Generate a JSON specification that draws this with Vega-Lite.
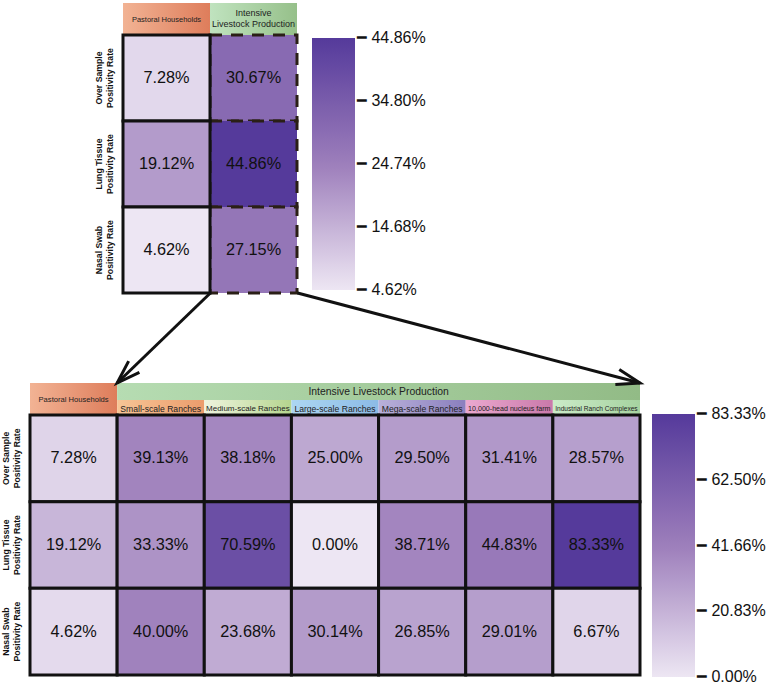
{
  "$schema": "https://vega.github.io/schema/vega-lite/v6.json",
  "width": 770,
  "height": 688,
  "padding": 0,
  "autosize": {"type": "none"},
  "background": "#ffffff",
  "config": {"view": {"stroke": null}, "font": "Liberation Sans"},
  "datasets": {
    "overview": [
      {"farm": "Intensive Livestock Production", "sample": "Over Sample\nPositivity Rate", "rate": 0.3067},
      {"farm": "Intensive Livestock Production", "sample": "Lung Tissue\nPositivity Rate", "rate": 0.4486},
      {"farm": "Intensive Livestock Production", "sample": "Nasal Swab\nPositivity Rate", "rate": 0.2715},
      {"farm": "Pastoral Households", "sample": "Over Sample\nPositivity Rate", "rate": 0.0728},
      {"farm": "Pastoral Households", "sample": "Lung Tissue\nPositivity Rate", "rate": 0.1912},
      {"farm": "Pastoral Households", "sample": "Nasal Swab\nPositivity Rate", "rate": 0.0462}
    ],
    "detail": [
      {"farm": "Pastoral Households", "sample": "Over Sample\nPositivity Rate", "rate": 0.0728},
      {"farm": "Small-scale Ranches", "sample": "Over Sample\nPositivity Rate", "rate": 0.3913},
      {"farm": "Medium-scale Ranches", "sample": "Over Sample\nPositivity Rate", "rate": 0.3818},
      {"farm": "Large-scale Ranches", "sample": "Over Sample\nPositivity Rate", "rate": 0.25},
      {"farm": "Mega-scale Ranches", "sample": "Over Sample\nPositivity Rate", "rate": 0.295},
      {"farm": "10,000-head nucleus farm", "sample": "Over Sample\nPositivity Rate", "rate": 0.3141},
      {"farm": "Industrial Ranch Complexes", "sample": "Over Sample\nPositivity Rate", "rate": 0.2857},
      {"farm": "Pastoral Households", "sample": "Lung Tissue\nPositivity Rate", "rate": 0.1912},
      {"farm": "Small-scale Ranches", "sample": "Lung Tissue\nPositivity Rate", "rate": 0.3333},
      {"farm": "Medium-scale Ranches", "sample": "Lung Tissue\nPositivity Rate", "rate": 0.7059},
      {"farm": "Large-scale Ranches", "sample": "Lung Tissue\nPositivity Rate", "rate": 0},
      {"farm": "Mega-scale Ranches", "sample": "Lung Tissue\nPositivity Rate", "rate": 0.3871},
      {"farm": "10,000-head nucleus farm", "sample": "Lung Tissue\nPositivity Rate", "rate": 0.4483},
      {"farm": "Industrial Ranch Complexes", "sample": "Lung Tissue\nPositivity Rate", "rate": 0.8333},
      {"farm": "Pastoral Households", "sample": "Nasal Swab\nPositivity Rate", "rate": 0.0462},
      {"farm": "Small-scale Ranches", "sample": "Nasal Swab\nPositivity Rate", "rate": 0.4},
      {"farm": "Medium-scale Ranches", "sample": "Nasal Swab\nPositivity Rate", "rate": 0.2368},
      {"farm": "Large-scale Ranches", "sample": "Nasal Swab\nPositivity Rate", "rate": 0.3014},
      {"farm": "Mega-scale Ranches", "sample": "Nasal Swab\nPositivity Rate", "rate": 0.2685},
      {"farm": "10,000-head nucleus farm", "sample": "Nasal Swab\nPositivity Rate", "rate": 0.2901},
      {"farm": "Industrial Ranch Complexes", "sample": "Nasal Swab\nPositivity Rate", "rate": 0.0667}
    ],
    "overviewHeads": [
      {"farm": "Pastoral Households", "tier": "group", "title": "Pastoral Households"},
      {"farm": "Intensive Livestock Production", "tier": "group", "title": "Intensive\nLivestock Production"}
    ],
    "detailHeads": [
      {"title": "Pastoral Households", "farm": "Pastoral Households", "farmEnd": "Pastoral Households", "tier": "group", "tierEnd": "sub"},
      {"title": "Intensive Livestock Production", "farm": "Small-scale Ranches", "farmEnd": "Industrial Ranch Complexes", "tier": "group", "tierEnd": "group"},
      {"title": "Small-scale Ranches", "farm": "Small-scale Ranches", "farmEnd": "Small-scale Ranches", "tier": "sub", "tierEnd": "sub"},
      {"title": "Medium-scale Ranches", "farm": "Medium-scale Ranches", "farmEnd": "Medium-scale Ranches", "tier": "sub", "tierEnd": "sub"},
      {"title": "Large-scale Ranches", "farm": "Large-scale Ranches", "farmEnd": "Large-scale Ranches", "tier": "sub", "tierEnd": "sub"},
      {"title": "Mega-scale Ranches", "farm": "Mega-scale Ranches", "farmEnd": "Mega-scale Ranches", "tier": "sub", "tierEnd": "sub"},
      {"title": "10,000-head nucleus farm", "farm": "10,000-head nucleus farm", "farmEnd": "10,000-head nucleus farm", "tier": "sub", "tierEnd": "sub"},
      {"title": "Industrial Ranch Complexes", "farm": "Industrial Ranch Complexes", "farmEnd": "Industrial Ranch Complexes", "tier": "sub", "tierEnd": "sub"}
    ],
    "links": [
      {"link": "left", "fromCol": 2.07, "fromRow": 0, "toCol": 1, "toRow": 1},
      {"link": "right", "fromCol": 3.07, "fromRow": 0, "toCol": 7, "toRow": 1}
    ]
  },
  "layer": [
    {
      "data": {"name": "detailHeads"},
      "encoding": {
        "x": {"field": "farm", "type": "nominal", "bandPosition": 0, "axis": null,
              "scale": {"domain": ["Pastoral Households", "Small-scale Ranches", "Medium-scale Ranches", "Large-scale Ranches", "Mega-scale Ranches", "10,000-head nucleus farm", "Industrial Ranch Complexes"], "range": [30, 640], "paddingInner": 0, "paddingOuter": 0}},
        "y": {"field": "tier", "type": "nominal", "bandPosition": 0, "axis": null,
              "scale": {"domain": ["group", "sub"], "range": [383, 417], "paddingInner": 0, "paddingOuter": 0}}
      },
      "layer": [
        {
          "encoding": {"x2": {"field": "farmEnd", "bandPosition": 1}, "y2": {"field": "tierEnd", "bandPosition": 1}},
          "layer": [
            {"transform": [{"filter": {"field": "title", "equal": "Pastoral Households"}}],
             "mark": {"type": "rect", "fill": {"gradient": "linear", "x1": 0, "y1": 0, "x2": 1, "y2": 0, "stops": [{"offset": 0, "color": "#f2b394"}, {"offset": 1, "color": "#de7d5b"}]}}},
            {"transform": [{"filter": {"field": "title", "equal": "Intensive Livestock Production"}}],
             "mark": {"type": "rect", "fill": {"gradient": "linear", "x1": 0, "y1": 0, "x2": 1, "y2": 0, "stops": [{"offset": 0, "color": "#b6dcb2"}, {"offset": 1, "color": "#92bb86"}]}}},
            {"transform": [{"filter": {"field": "title", "equal": "Small-scale Ranches"}}],
             "mark": {"type": "rect", "fill": {"gradient": "linear", "x1": 0, "y1": 0, "x2": 1, "y2": 0, "stops": [{"offset": 0, "color": "#f7c596"}, {"offset": 1, "color": "#eb9c6c"}]}}},
            {"transform": [{"filter": {"field": "title", "equal": "Medium-scale Ranches"}}],
             "mark": {"type": "rect", "fill": {"gradient": "linear", "x1": 0, "y1": 0, "x2": 1, "y2": 0, "stops": [{"offset": 0, "color": "#eef4de"}, {"offset": 1, "color": "#b5d58e"}]}}},
            {"transform": [{"filter": {"field": "title", "equal": "Large-scale Ranches"}}],
             "mark": {"type": "rect", "fill": {"gradient": "linear", "x1": 0, "y1": 0, "x2": 1, "y2": 0, "stops": [{"offset": 0, "color": "#acd6f2"}, {"offset": 1, "color": "#8cbbe6"}]}}},
            {"transform": [{"filter": {"field": "title", "equal": "Mega-scale Ranches"}}],
             "mark": {"type": "rect", "fill": {"gradient": "linear", "x1": 0, "y1": 0, "x2": 1, "y2": 0, "stops": [{"offset": 0, "color": "#b9b0da"}, {"offset": 1, "color": "#8a7fbe"}]}}},
            {"transform": [{"filter": {"field": "title", "equal": "10,000-head nucleus farm"}}],
             "mark": {"type": "rect", "fill": {"gradient": "linear", "x1": 0, "y1": 0, "x2": 1, "y2": 0, "stops": [{"offset": 0, "color": "#eba9cf"}, {"offset": 1, "color": "#c979aa"}]}}},
            {"transform": [{"filter": {"field": "title", "equal": "Industrial Ranch Complexes"}}],
             "mark": {"type": "rect", "fill": {"gradient": "linear", "x1": 0, "y1": 0, "x2": 1, "y2": 0, "stops": [{"offset": 0, "color": "#cbebc8"}, {"offset": 1, "color": "#a6d3a0"}]}}}
          ]
        },
        {"transform": [{"filter": {"field": "title", "equal": "Pastoral Households"}}],
         "mark": {"type": "text", "fontSize": 7.6, "color": "#222222"},
         "encoding": {"x": {"field": "farm", "type": "nominal", "bandPosition": 0.5}, "y": {"field": "tier", "type": "nominal", "bandPosition": 1}, "text": {"field": "title"}}},
        {"transform": [{"filter": {"field": "title", "equal": "Intensive Livestock Production"}}],
         "mark": {"type": "text", "fontSize": 10.4, "color": "#222222"},
         "encoding": {"x": {"field": "farm", "type": "nominal", "bandPosition": 3}, "y": {"field": "tier", "type": "nominal", "bandPosition": 0.5}, "text": {"field": "title"}}},
        {"transform": [{"filter": {"field": "tier", "equal": "sub"}}],
         "mark": {"type": "text", "color": "#222222"},
         "encoding": {
           "x": {"field": "farm", "type": "nominal", "bandPosition": 0.5},
           "y": {"field": "tier", "type": "nominal", "bandPosition": 0.5},
           "text": {"field": "title"},
           "size": {"condition": [{"test": "datum.title === 'Industrial Ranch Complexes'", "value": 6.6}, {"test": "datum.title === '10,000-head nucleus farm'", "value": 7.1}, {"test": "datum.title === 'Medium-scale Ranches'", "value": 8}], "value": 8.6}
         }}
      ]
    },
    {
      "data": {"name": "detail"},
      "encoding": {
        "x": {"field": "farm", "type": "nominal", "axis": null,
              "scale": {"domain": ["Pastoral Households", "Small-scale Ranches", "Medium-scale Ranches", "Large-scale Ranches", "Mega-scale Ranches", "10,000-head nucleus farm", "Industrial Ranch Complexes"], "range": [30, 640], "paddingInner": 0, "paddingOuter": 0}},
        "y": {"field": "sample", "type": "nominal", "axis": null,
              "scale": {"domain": ["Over Sample\nPositivity Rate", "Lung Tissue\nPositivity Rate", "Nasal Swab\nPositivity Rate"], "range": [415, 675], "paddingInner": 0, "paddingOuter": 0}}
      },
      "layer": [
        {"mark": {"type": "rect", "stroke": "#111111", "strokeWidth": 3},
         "encoding": {"color": {"field": "rate", "type": "quantitative",
           "scale": {"domain": [0, 0.41665, 0.8333], "range": ["#ede6f3", "#9d7ebb", "#553a9b"], "interpolate": "rgb"},
           "legend": {"orient": "none", "legendX": 652, "legendY": 414, "direction": "vertical", "title": null, "padding": 0,
                      "gradientLength": 263, "gradientThickness": 43, "gradientStrokeWidth": 0,
                      "values": [0, 0.2083, 0.4166, 0.625, 0.8333], "format": ".2%", "labelExpr": "'━ ' + datum.label",
                      "labelFont": "Liberation Sans", "labelFontSize": 16, "labelColor": "#111111", "labelOffset": 2, "labelLimit": 200, "labelOverlap": false,
                      "encode": {"labels": {"update": {"baseline": {"value": "middle"}}}}}}}},
        {"mark": {"type": "text", "fontSize": 16.3, "color": "#111111"},
         "encoding": {"text": {"field": "rate", "type": "quantitative", "format": ".2%"}}},
        {"transform": [{"filter": {"field": "farm", "equal": "Pastoral Households"}}],
         "mark": {"type": "text", "angle": 270, "align": "center", "baseline": "bottom", "dy": -19, "lineBreak": "\n", "lineHeight": 11, "fontSize": 8.7, "fontWeight": "bold", "color": "#111111"},
         "encoding": {"x": {"field": "farm", "type": "nominal", "bandPosition": 0}, "text": {"field": "sample"}}}
      ]
    },
    {
      "data": {"name": "overviewHeads"},
      "encoding": {
        "x": {"field": "farm", "type": "nominal", "axis": null,
              "scale": {"domain": ["Pastoral Households", "Intensive Livestock Production"], "range": [123, 297], "paddingInner": 0, "paddingOuter": 0}},
        "y": {"field": "tier", "type": "nominal", "axis": null,
              "scale": {"domain": ["group"], "range": [3, 35], "paddingInner": 0, "paddingOuter": 0}}
      },
      "layer": [
        {"transform": [{"filter": {"field": "farm", "equal": "Pastoral Households"}}],
         "mark": {"type": "rect", "fill": {"gradient": "linear", "x1": 0, "y1": 0, "x2": 1, "y2": 0, "stops": [{"offset": 0, "color": "#f2b394"}, {"offset": 1, "color": "#de7d5b"}]}}},
        {"transform": [{"filter": {"field": "farm", "equal": "Intensive Livestock Production"}}],
         "mark": {"type": "rect", "fill": {"gradient": "linear", "x1": 0, "y1": 0, "x2": 1, "y2": 0, "stops": [{"offset": 0, "color": "#c0e3bf"}, {"offset": 1, "color": "#96c08a"}]}}},
        {"transform": [{"filter": {"field": "farm", "equal": "Pastoral Households"}}],
         "mark": {"type": "text", "fontSize": 7.5, "dy": 1, "color": "#222222"},
         "encoding": {"text": {"field": "title"}}},
        {"transform": [{"filter": {"field": "farm", "equal": "Intensive Livestock Production"}}],
         "mark": {"type": "text", "fontSize": 9, "lineBreak": "\n", "lineHeight": 11, "dy": -6, "color": "#222222"},
         "encoding": {"text": {"field": "title"}}}
      ]
    },
    {
      "data": {"name": "overview"},
      "encoding": {
        "x": {"field": "farm", "type": "nominal", "axis": null,
              "scale": {"domain": ["Pastoral Households", "Intensive Livestock Production"], "range": [123, 297], "paddingInner": 0, "paddingOuter": 0}},
        "y": {"field": "sample", "type": "nominal", "axis": null,
              "scale": {"domain": ["Over Sample\nPositivity Rate", "Lung Tissue\nPositivity Rate", "Nasal Swab\nPositivity Rate"], "range": [35, 293], "paddingInner": 0, "paddingOuter": 0}}
      },
      "layer": [
        {"transform": [{"filter": {"field": "farm", "equal": "Intensive Livestock Production"}}],
         "mark": {"type": "rect", "stroke": "#2a1f16", "strokeWidth": 3, "strokeDash": [12, 9]},
         "encoding": {"color": {"field": "rate", "type": "quantitative",
           "scale": {"domain": [0.0462, 0.2474, 0.4486], "range": ["#ede6f3", "#9d7ebb", "#553a9b"], "interpolate": "rgb"},
           "legend": {"orient": "none", "legendX": 312, "legendY": 38, "direction": "vertical", "title": null, "padding": 0,
                      "gradientLength": 252, "gradientThickness": 43, "gradientStrokeWidth": 0,
                      "values": [0.0462, 0.1468, 0.2474, 0.348, 0.4486], "format": ".2%", "labelExpr": "'━ ' + datum.label",
                      "labelFont": "Liberation Sans", "labelFontSize": 16, "labelColor": "#111111", "labelOffset": 2, "labelLimit": 200, "labelOverlap": false,
                      "encode": {"labels": {"update": {"baseline": {"value": "middle"}}}}}}}},
        {"transform": [{"filter": {"field": "farm", "equal": "Pastoral Households"}}],
         "mark": {"type": "rect", "stroke": "#111111", "strokeWidth": 3},
         "encoding": {"color": {"field": "rate", "type": "quantitative",
           "scale": {"domain": [0.0462, 0.2474, 0.4486], "range": ["#ede6f3", "#9d7ebb", "#553a9b"], "interpolate": "rgb"},
           "legend": {"orient": "none", "legendX": 312, "legendY": 38, "direction": "vertical", "title": null, "padding": 0,
                      "gradientLength": 252, "gradientThickness": 43, "gradientStrokeWidth": 0,
                      "values": [0.0462, 0.1468, 0.2474, 0.348, 0.4486], "format": ".2%", "labelExpr": "'━ ' + datum.label",
                      "labelFont": "Liberation Sans", "labelFontSize": 16, "labelColor": "#111111", "labelOffset": 2, "labelLimit": 200, "labelOverlap": false,
                      "encode": {"labels": {"update": {"baseline": {"value": "middle"}}}}}}}},
        {"mark": {"type": "text", "fontSize": 16.3, "color": "#111111"},
         "encoding": {"text": {"field": "rate", "type": "quantitative", "format": ".2%"}}},
        {"transform": [{"filter": {"field": "farm", "equal": "Pastoral Households"}}],
         "mark": {"type": "text", "angle": 270, "align": "center", "baseline": "bottom", "dy": -19, "lineBreak": "\n", "lineHeight": 11, "fontSize": 8.7, "fontWeight": "bold", "color": "#111111"},
         "encoding": {"x": {"field": "farm", "type": "nominal", "bandPosition": 0}, "text": {"field": "sample"}}}
      ]
    },
    {
      "data": {"name": "links"},
      "encoding": {
        "x": {"field": "fromCol", "type": "quantitative", "axis": null, "scale": {"domain": [0, 7], "range": [30, 640]}},
        "y": {"field": "fromRow", "type": "quantitative", "axis": null, "scale": {"domain": [0, 1], "range": [293, 383]}}
      },
      "layer": [
        {"mark": {"type": "rule", "color": "#111111", "strokeWidth": 3},
         "encoding": {"x2": {"field": "toCol"}, "y2": {"field": "toRow"}}},
        {"mark": {"type": "point", "shape": "M-1,-0.33L0,0L-1,0.33", "filled": false, "color": "#111111", "strokeWidth": 3, "size": 2200, "opacity": 1},
         "encoding": {
           "x": {"field": "toCol", "type": "quantitative"},
           "y": {"field": "toRow", "type": "quantitative"},
           "angle": {"condition": {"test": "datum.link === 'left'", "value": 136}, "value": 14.7}
         }}
      ]
    }
  ],
  "resolve": {"scale": {"x": "independent", "y": "independent", "color": "independent"}}
}
